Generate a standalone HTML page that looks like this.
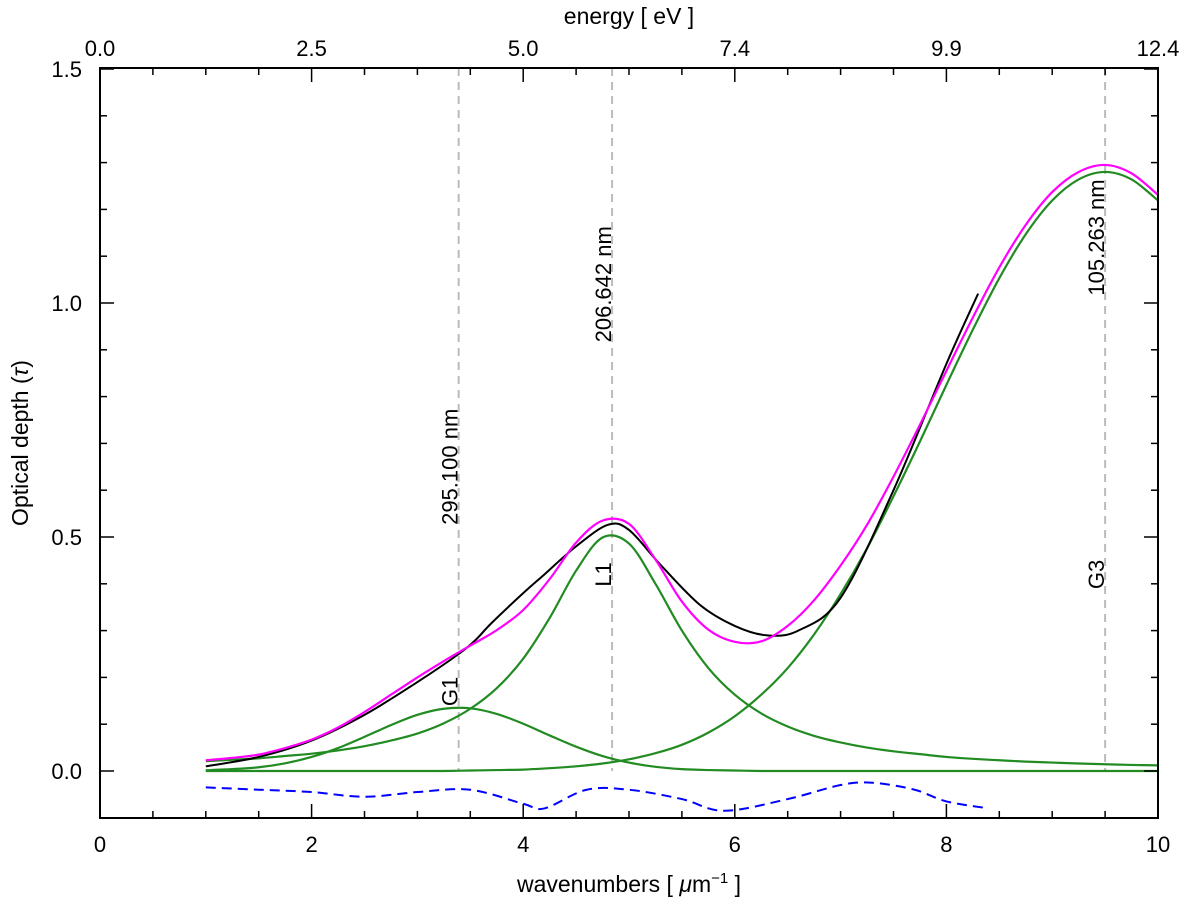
<!DOCTYPE html>
<html><head><meta charset="utf-8"><style>
body{margin:0;background:#fff}
svg{display:block;font-family:"Liberation Sans","DejaVu Sans",sans-serif}
</style></head><body>
<svg id="chart" width="1200" height="907" viewBox="0 0 1200 907">
<rect width="1200" height="907" fill="#fff"/>
<g id="grid"></g><g id="marks"></g><g id="axes"></g>
</svg>
<script>
const xs = [1,1.25,1.5,1.75,2,2.25,2.5,2.75,3,3.25,3.5,3.75,4,4.25,4.5,4.75,5,5.25,5.5,5.75,6,6.25,6.5,6.75,7,7.25,7.5,7.75,8,8.25,8.5,8.75,9,9.25,9.5,9.75,10];
const g1Vals = [0.0016,0.004,0.008,0.0165,0.030,0.049,0.073,0.098,0.120,0.133,0.134,0.122,0.101,0.076,0.052,0.032,0.018,0.009,0.004,0.002,0.001,0,0,0,0,0,0,0,0,0,0,0,0,0,0,0,0];
const l1Vals = [0.021,0.024,0.027,0.032,0.037,0.044,0.053,0.065,0.080,0.102,0.133,0.177,0.240,0.327,0.428,0.499,0.486,0.400,0.300,0.220,0.163,0.123,0.095,0.075,0.061,0.050,0.042,0.036,0.030,0.026,0.023,0.020,0.018,0.016,0.0145,0.013,0.012];
const g3Vals = [0,0,0,0,0,0,0,0,0,0,0.001,0.002,0.003,0.006,0.010,0.016,0.025,0.038,0.056,0.082,0.117,0.163,0.220,0.292,0.378,0.476,0.587,0.704,0.825,0.943,1.053,1.147,1.219,1.264,1.28,1.264,1.219];
const fitVals = [0.023,0.028,0.035,0.049,0.067,0.093,0.126,0.163,0.200,0.235,0.268,0.301,0.344,0.410,0.488,0.535,0.528,0.452,0.362,0.302,0.276,0.277,0.310,0.365,0.439,0.526,0.629,0.740,0.855,0.969,1.076,1.167,1.237,1.280,1.295,1.277,1.231];
const dataX = [1,1.5,2,2.5,3,3.39,3.55,3.7,4,4.2,4.5,4.8,5,5.3,5.67,6,6.3,6.6,7,7.5,8,8.3];
const dataVals = [0.01,0.03,0.065,0.12,0.19,0.25,0.28,0.316,0.38,0.42,0.48,0.526,0.515,0.44,0.355,0.31,0.29,0.30,0.37,0.60,0.87,1.02];
const resX = [1,1.5,2,2.5,3,3.5,4,4.2,4.6,5,5.5,5.9,6.5,7,7.3,7.7,8,8.4];
const resVals = [-0.035,-0.04,-0.045,-0.055,-0.045,-0.04,-0.07,-0.08,-0.04,-0.04,-0.06,-0.085,-0.06,-0.03,-0.025,-0.04,-0.065,-0.08];
const xTicks = [0,2,4,6,8,10];
const xTickLabels = ["0","2","4","6","8","10"];
const topTickLabels = ["0.0","2.5","5.0","7.4","9.9","12.4"];
const yTicks = [0,0.5,1.0,1.5];
const yTickLabels = ["0.0","0.5","1.0","1.5"];
const lineCenters = [3.39,4.84,9.5];
const lineLabels = ["295.100 nm","206.642 nm","105.263 nm"];
const compLabels = ["G1","L1","G3"];
const lineLabelY = [0.65,1.04,1.14];
const compLabelY = [0.17,0.42,0.42];

const L=100,R=1158,T=68,B=818;
const X=v=>L+(v-0)/(10-0)*(R-L);
const Y=v=>771-v*468;
const NS="http://www.w3.org/2000/svg";
function mk(tag,attrs,parent){const e=document.createElementNS(NS,tag);for(const k in attrs)e.setAttribute(k,attrs[k]);parent.appendChild(e);return e;}
function smooth(px,py){let d=`M${X(px[0])},${Y(py[0])}`;const n=px.length;
 for(let i=0;i<n-1;i++){const p0=[X(px[Math.max(i-1,0)]),Y(py[Math.max(i-1,0)])],p1=[X(px[i]),Y(py[i])],p2=[X(px[i+1]),Y(py[i+1])],p3=[X(px[Math.min(i+2,n-1)]),Y(py[Math.min(i+2,n-1)])];
 const c1=[p1[0]+(p2[0]-p0[0])/6,p1[1]+(p2[1]-p0[1])/6],c2=[p2[0]-(p3[0]-p1[0])/6,p2[1]-(p3[1]-p1[1])/6];
 d+=`C${c1[0]},${c1[1]} ${c2[0]},${c2[1]} ${p2[0]},${p2[1]}`;}return d;}
const grid=document.getElementById('grid'),marks=document.getElementById('marks'),axes=document.getElementById('axes');

lineCenters.forEach((c,i)=>{
 const ln=mk('line',{x1:X(c),x2:X(c),y1:T,y2:Y(0),stroke:'#bbb','stroke-width':2,'stroke-dasharray':'8,6'},grid);
 
 
 const tx=X(c)-1;
 const t=mk('text',{x:tx,y:Y(lineLabelY[i]),'font-size':22,'text-anchor':'middle',transform:`rotate(-90 ${tx} ${Y(lineLabelY[i])})`},grid);t.textContent=lineLabels[i];
 
 
 const t2=mk('text',{x:tx,y:Y(compLabelY[i]),'font-size':22,'text-anchor':'middle',transform:`rotate(-90 ${tx} ${Y(compLabelY[i])})`},grid);t2.textContent=compLabels[i];
 
 
});

[[g1Vals,'g1'],[l1Vals,'l1'],[g3Vals,'g3']].forEach(([v,n])=>{
 const p=mk('path',{d:smooth(xs,v),fill:'none',stroke:'#228b22','stroke-width':2.2},marks);
 
 
});
const pd=mk('path',{d:smooth(dataX,dataVals),fill:'none',stroke:'#000','stroke-width':2},marks);


const pf=mk('path',{d:smooth(xs,fitVals),fill:'none',stroke:'#ff00ff','stroke-width':2.2},marks);


const pr=mk('path',{d:smooth(resX,resVals),fill:'none',stroke:'#0000ff','stroke-width':2,'stroke-dasharray':'10,6'},marks);



const frame=mk('rect',{x:L,y:T,width:R-L,height:B-T,fill:'none',stroke:'#000','stroke-width':2},axes);


for(let v=0;v<=10.001;v+=0.5){const big=Math.abs(v-Math.round(v/2)*2)<1e-6;const len=big?14:7;
 mk('line',{x1:X(v),x2:X(v),y1:B,y2:B-len,stroke:'#000','stroke-width':1.5},axes);
 mk('line',{x1:X(v),x2:X(v),y1:T,y2:T+len,stroke:'#000','stroke-width':1.5},axes);}
for(let k=-1;k<=15;k++){const v=k/10;const big=k%5===0;const len=big?14:7;
 mk('line',{x1:L,x2:L+len,y1:Y(v),y2:Y(v),stroke:'#000','stroke-width':1.5},axes);
 mk('line',{x1:R,x2:R-len,y1:Y(v),y2:Y(v),stroke:'#000','stroke-width':1.5},axes);}
xTicks.forEach((v,i)=>{
 const t=mk('text',{x:X(v),y:B+34,'font-size':22,'text-anchor':'middle'},axes);t.textContent=xTickLabels[i];
 
 
 const t2=mk('text',{x:X(v),y:T-12,'font-size':22,'text-anchor':'middle'},axes);t2.textContent=topTickLabels[i];
 
 
});
yTicks.forEach((v,i)=>{
 const t=mk('text',{x:L-18,y:Y(v)+8,'font-size':22,'text-anchor':'end'},axes);t.textContent=yTickLabels[i];
 
 
});
const xt=mk('text',{x:629,y:892,'font-size':23,'text-anchor':'middle'},axes);
xt.innerHTML='wavenumbers [ <tspan font-style="italic">μ</tspan>m<tspan dy="-9" font-size="15">−1</tspan><tspan dy="9"> ]</tspan>';


const tt=mk('text',{x:629,y:24,'font-size':23,'text-anchor':'middle'},axes);tt.textContent='energy [ eV ]';


const yt=mk('text',{x:28,y:443,'font-size':23,'text-anchor':'middle',transform:'rotate(-90 28 443)'},axes);
yt.innerHTML='Optical depth (<tspan font-style="italic">τ</tspan>)';


</script>
</body></html>
